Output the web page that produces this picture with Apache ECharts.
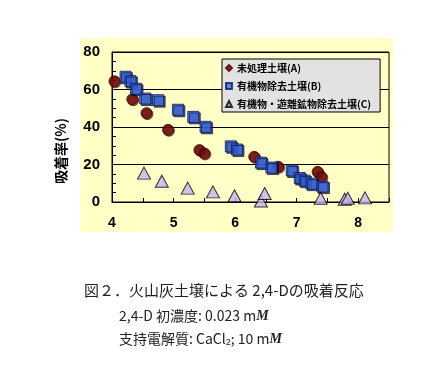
<!DOCTYPE html>
<html><head><meta charset="utf-8">
<script src="https://cdn.jsdelivr.net/npm/echarts@6/dist/echarts.min.js"></script>
<style>html,body{margin:0;padding:0;background:#fff}#c{width:437px;height:374px}</style>
</head><body><div id="c"></div>
<script>
// Data (pH vs adsorption %)
const nameA = '未処理土壌(A)';
const nameB = '有機物除去土壌(B)';
const nameC = '有機物・遊離鉱物除去土壌(C)';
const xA = [4.04, 4.33, 4.56, 4.91, 5.42, 5.50, 6.31, 6.70, 7.34, 7.40];
const yA = [64.4, 54.8, 47.4, 38.5, 27.7, 25.9, 24.1, 18.8, 16.1, 13.5];
const xB = [4.22, 4.30, 4.39, 4.54, 4.75, 5.07, 5.32, 5.52, 5.93, 6.03, 6.42, 6.59, 6.92, 7.05, 7.13, 7.24, 7.42];
const yB = [66.8, 64.5, 60.4, 55.2, 54.3, 49.2, 45.4, 40.1, 29.7, 28.0, 21.0, 18.4, 16.8, 12.8, 11.4, 9.8, 8.2];
const xC = [4.52, 4.81, 5.23, 5.64, 5.99, 6.42, 6.48, 7.39, 7.78, 7.83, 8.11];
const yC = [15.4, 11.1, 7.4, 5.4, 3.3, 0.5, 4.5, 2.0, 1.5, 2.0, 2.2];
const xTicks = [4, 5, 6, 7, 8];
const yTicks = [0, 20, 40, 60, 80];
const yTitle = '吸着率(%)';
const caption1 = '図２．火山灰土壌による 2,4-Dの吸着反応';

const pairs = (xs, ys) => xs.map((x, i) => [x, ys[i]]);

const chart = echarts.init(document.getElementById('c'), null, {renderer: 'canvas'});
chart.setOption({
  animation: false,
  backgroundColor: '#ffffff',
  grid: {left: 112, top: 52, right: 48, bottom: 172, show: true, borderColor: '#000', borderWidth: 1, backgroundColor: 'transparent'},
  graphic: [
    {type: 'rect', z: -10, silent: true, shape: {x: 80, y: 38, width: 313, height: 194}, style: {fill: '#FFFFC6'}},
    {type: 'text', left: 54, top: 118, rotation: Math.PI / 2, originX: 0, originY: 0,
     style: {text: yTitle, font: 'bold 14px "Noto Sans CJK JP", sans-serif', fill: '#000', x: 0, y: 0, align: 'center', verticalAlign: 'middle'}},
    {type: 'text', left: 84, top: 283,
     style: {text: caption1, font: '15px "Noto Sans CJK JP", sans-serif', fill: '#222'}},
    {type: 'text', left: 119, top: 309,
     style: {text: '2,4-D 初濃度: 0.023 m{i|M}', font: '14px "Noto Sans CJK JP", sans-serif', fill: '#222',
       rich: {i: {fontStyle: 'italic', fontWeight: 'bold', fontSize: 14, fontFamily: '"Liberation Serif", serif', fill: '#222'}}}},
    {type: 'text', left: 119, top: 332,
     style: {text: '支持電解質: CaCl{s|2}; 10 m{i|M}', font: '14px "Noto Sans CJK JP", sans-serif', fill: '#222',
       rich: {i: {fontStyle: 'italic', fontWeight: 'bold', fontSize: 14, fontFamily: '"Liberation Serif", serif', fill: '#222'},
              s: {fontSize: 9, padding: [8, 0, 0, 0], fill: '#222'}}}}
  ],
  legend: {
    orient: 'vertical', left: 222, top: 59,
    backgroundColor: '#E2E2E2', borderColor: '#000', borderWidth: 1,
    padding: [4, 9, 3, 3], itemGap: 8, itemWidth: 6, itemHeight: 6,
    textStyle: {fontSize: 10, fontWeight: 'bold', color: '#000', fontFamily: '"Noto Sans CJK JP", sans-serif', lineHeight: 10},
    data: [
      {name: nameA, icon: 'diamond'},
      {name: nameB, icon: 'rect'},
      {name: nameC, icon: 'triangle'}
    ]
  },
  xAxis: {
    type: 'value', min: 4, max: 8.5, interval: 1,
    axisLine: {show: true, lineStyle: {color: '#000', width: 1}},
    axisTick: {show: true, inside: true, length: 4, lineStyle: {color: '#000'}},
    minorTick: {show: true, splitNumber: 2, length: 4, lineStyle: {color: '#000'}},
    splitLine: {show: false},
    axisLabel: {margin: 14, fontSize: 14, fontWeight: 'bold', color: '#000', fontFamily: '"Liberation Sans", Arial, sans-serif',
      formatter: v => xTicks.includes(v) ? String(v) : ''}
  },
  yAxis: {
    type: 'value', min: 0, max: 80, interval: 20,
    axisLine: {show: true, lineStyle: {color: '#000', width: 1}},
    axisTick: {show: true, inside: true, length: 4, lineStyle: {color: '#000'}},
    minorTick: {show: true, splitNumber: 4, length: 4, lineStyle: {color: '#000'}},
    splitLine: {show: true, lineStyle: {color: '#000', width: 1}},
    axisLabel: {margin: 12, fontSize: 15, fontWeight: 'bold', color: '#000', fontFamily: '"Liberation Sans", Arial, sans-serif',
      formatter: v => yTicks.includes(v) ? String(v) : ''}
  },
  series: [
    {name: nameA, type: 'scatter', symbol: 'circle', symbolSize: 11, data: pairs(xA, yA),
     itemStyle: {color: '#7A0A0A', borderColor: '#4A0000', borderWidth: 1, shadowColor: 'rgba(40,0,0,0.7)', shadowOffsetX: 1, shadowOffsetY: 1, shadowBlur: 0}},
    {name: nameB, type: 'scatter', symbol: 'rect', symbolSize: 11, data: pairs(xB, yB),
     itemStyle: {color: '#3A6CEB', borderColor: '#0A1A60', borderWidth: 1, shadowColor: 'rgba(0,0,40,0.8)', shadowOffsetX: 1.5, shadowOffsetY: 1.5, shadowBlur: 0}},
    {name: nameC, type: 'scatter', symbol: 'triangle', symbolSize: [13, 12], data: pairs(xC, yC),
     itemStyle: {color: '#C8B0F4', borderColor: '#000', borderWidth: 1}}
  ]
});
</script></body></html>
